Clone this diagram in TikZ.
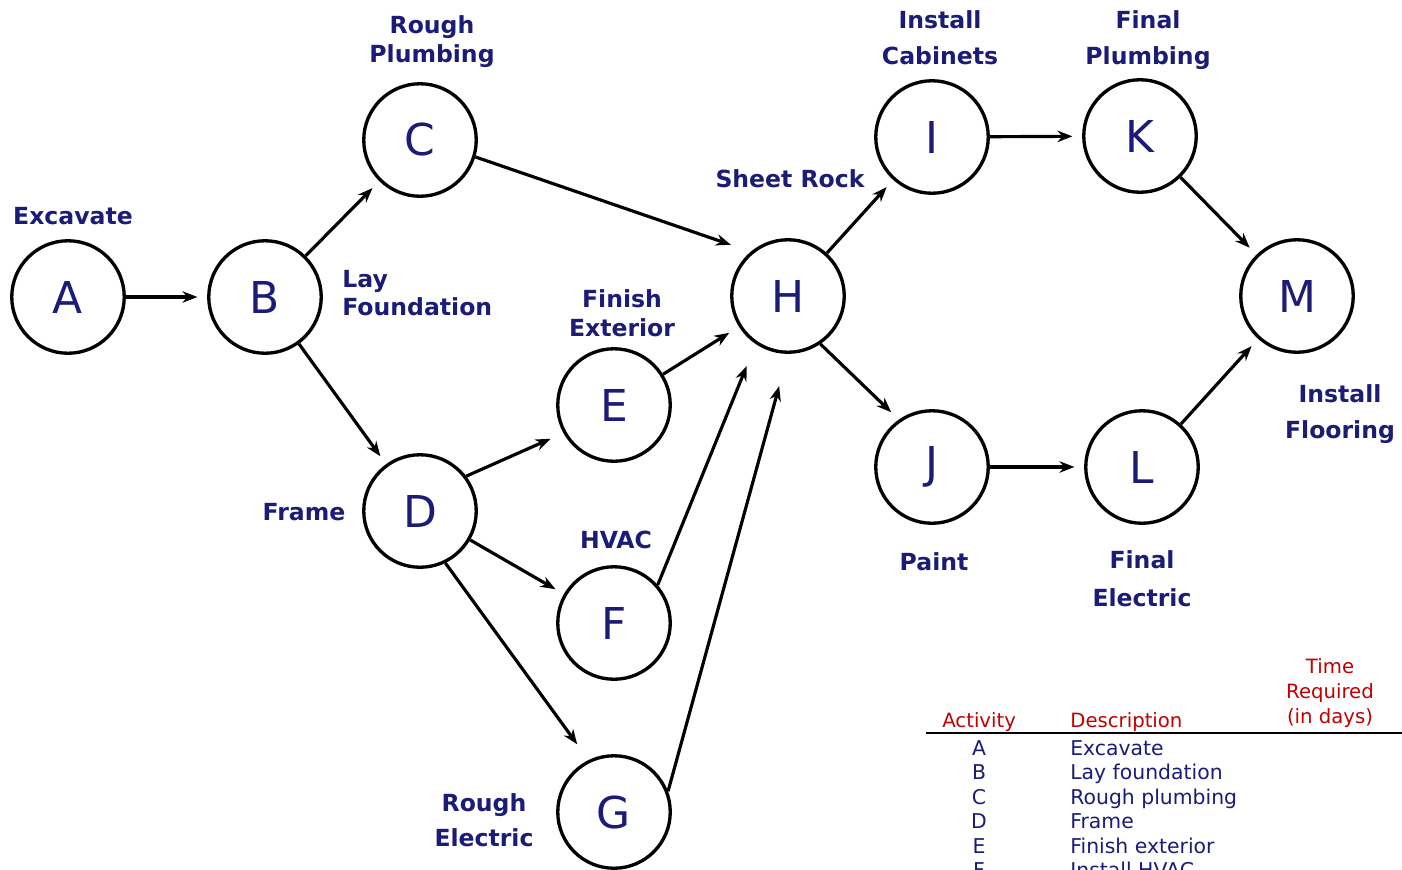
\documentclass[tikz,border=0pt]{standalone}
\usepackage{fontspec}
\setmainfont{DejaVu Sans}
\usetikzlibrary{arrows.meta}
\definecolor{navy}{HTML}{1B1B78}
\definecolor{hdred}{HTML}{C00000}

\begin{document}
\begin{tikzpicture}[
  x=0.02cm, y=-0.02cm,
  >={Stealth[length=8.5pt, width=6.5pt]},
  task/.style={
    draw=black, circle, line width=1.9pt, minimum size=2.25cm,
    inner sep=0pt, font=\fontsize{25}{30}\selectfont, text=navy
  },
  arr/.style={->, line width=1.8pt, shorten >=5.5pt},
  lbl/.style={font=\fontsize{13.4}{16.4}\selectfont\bfseries, text=navy,
    align=center, inner sep=0pt},
  hdr/.style={font=\fontsize{11.2}{14}\selectfont, text=hdred,
    align=center, inner sep=0pt},
  cell/.style={font=\fontsize{11.6}{14}\selectfont, text=navy, inner sep=0pt},
]

% Page frame
\useasboundingbox (0,0) rectangle (1402,869);
\clip (0,0) rectangle (1402,869);

% =============================================
% Activity nodes
% =============================================
\node[task] (A) at (68,297)  {A};
\node[task] (B) at (265,297) {B};
\node[task] (C) at (420,140) {C};
\node[task] (D) at (420,511) {D};
\node[task] (E) at (614,405) {E};
\node[task] (F) at (614,623) {F};
\node[task] (G) at (614,812) {G};
\node[task] (H) at (788,296) {H};
\node[task] (I) at (932,137) {I};
\node[task] (J) at (932,467) {J};
\node[task] (K) at (1140,136) {K};
\node[task] (L) at (1142,467) {L};
\node[task] (M) at (1297,296) {M};

% =============================================
% Activity labels
% =============================================
\node[lbl] (lblA) at (73,216) {Excavate};
\node[lbl, align=left, anchor=west] (lblB) at (342,293) {Lay\\Foundation};
\node[lbl] (lblC) at (432,42) {Rough\\Plumbing};
\node[lbl] (lblD) at (304,512) {Frame};
\node[lbl] (lblE) at (622,313) {Finish\\Exterior};
\node[lbl] (lblF) at (616,540) {HVAC};
\node[lbl] (lblG) at (484,820) {Rough\\[3.5pt]Electric};
\node[lbl] (lblH) at (790,179) {Sheet Rock};
\node[lbl] (lblI) at (940,38) {Install\\[4pt]Cabinets};
\node[lbl] (lblJ) at (934,562) {Paint};
\node[lbl] (lblK) at (1148,40) {Final\\[4pt]Plumbing};
\node[lbl] (lblL) at (1142,579) {Final\\[5pt]Electric};
\node[lbl] (lblM) at (1340,414) {Install\\[4pt]Flooring};

% =============================================
% Precedence arrows
% =============================================
\draw[arr] (A) -- (B);
\draw[arr] (B) -- (C);
\draw[arr] (B) -- (D);
\draw[arr, shorten >=12pt] (C.-17) -- (H.130);
\draw[arr, shorten >=8pt] (D.37) -- (E.209);
\draw[arr] (D) -- (F);
\draw[arr, shorten >=11pt] (D.-64) -- (G.116);
\draw[arr, shorten >=6.5pt] (E) -- (H);
\draw[arr, shorten >=13.5pt] (F.41) -- (H.236);
\draw[arr, shorten >=19pt] (G.21) -- (H.270);
\draw[arr] (H) -- (I);
\draw[arr, shorten >=6pt] (H.-56) -- (J.125);
\draw[arr] (I) -- (K);
\draw[arr] (J) -- (L);
\draw[arr] (K) -- (M);
\draw[arr] (L) -- (M);

% =============================================
% Activity table (bottom right)
% =============================================
\node[hdr, anchor=base west] (hdact) at (942,727) {Activity};
\node[hdr, anchor=base west] (hddesc) at (1070,727) {Description};
\node[hdr] (hdtime) at (1330,693) {Time\\Required\\(in days)};
\draw[line width=1.2pt] (926,733) -- (1402,733);

\foreach \act/\desc [count=\i] in {A/Excavate, B/Lay foundation,
    C/Rough plumbing, D/Frame, E/Finish exterior, F/Install HVAC} {
  \node[cell, anchor=base] (act\act) at (979,{755+(\i-1)*24.5}) {\act};
  \node[cell, anchor=base west] (desc\act) at (1070,{755+(\i-1)*24.5}) {\desc};
}

\end{tikzpicture}
\end{document}
